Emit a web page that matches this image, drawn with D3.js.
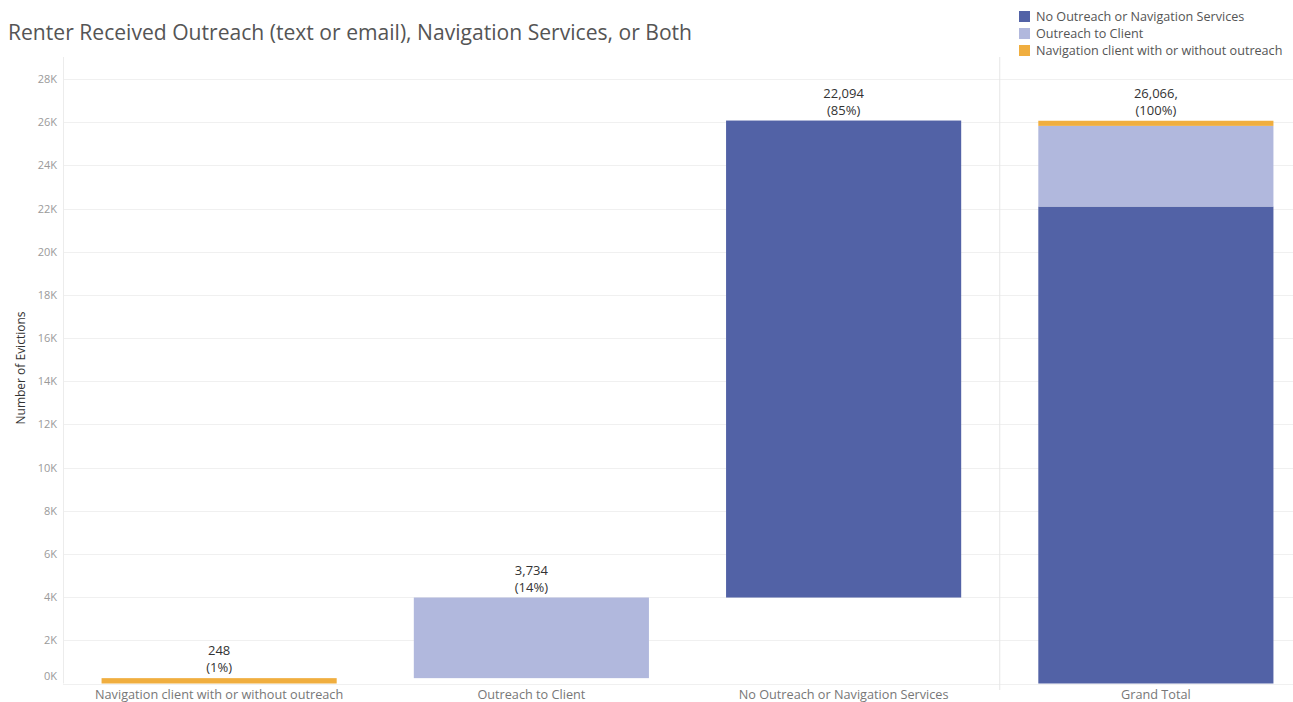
<!DOCTYPE html>
<html>
<head>
<meta charset="utf-8">
<script src="https://cdn.jsdelivr.net/npm/d3@7"></script>
<style>
  html, body { margin: 0; padding: 0; background: #fff; }
  svg { display: block; font-family: "Open Sans", "Noto Sans", sans-serif; }
</style>
</head>
<body>
<svg id="chart" width="1293" height="702"></svg>
<script>
// Evictions by outreach / navigation status (waterfall with grand total)
const categories = [
  "Navigation client with or without outreach",
  "Outreach to Client",
  "No Outreach or Navigation Services"
];
const totalLabel = "Grand Total";
const values = [248, 3734, 22094];
const percents = ["1%", "14%", "85%"];
const grandTotal = 26066;
const totalPercent = "100%";
const colors = ["#f0ae3f", "#b1b8dd", "#5262a6"];
const yTicks = [0, 2000, 4000, 6000, 8000, 10000, 12000, 14000, 16000, 18000, 20000, 22000, 24000, 26000, 28000];
const legendOrder = [2, 1, 0];

const svg = d3.select("#chart");
const W = 1293, H = 702;
const padLeft = 63, padTop = 57, baseY = 683.5;

const x = d3.scaleBand()
  .domain([...categories, totalLabel])
  .range([padLeft, padLeft + 4 * 312.25])
  .paddingInner(0.247)
  .paddingOuter(0.1235);

const y = d3.scaleLinear().domain([0, 28000]).range([baseY, 79]);

// running totals for the waterfall steps
let run = 0;
const steps = values.map((v, i) => {
  const s = { cat: categories[i], start: run, end: run + v, value: v, pct: percents[i], color: colors[i] };
  run += v;
  return s;
});

// gridlines
svg.append("g")
  .selectAll("line")
  .data(yTicks)
  .join("line")
  .attr("x1", padLeft).attr("x2", W)
  .attr("y1", d => Math.round(y(d)) + 0.5).attr("y2", d => Math.round(y(d)) + 0.5)
  .attr("stroke", "#f0f0f0").attr("stroke-width", 1);

// left axis rule and pane divider
svg.append("line").attr("x1", padLeft + 0.5).attr("x2", padLeft + 0.5).attr("y1", padTop).attr("y2", baseY)
  .attr("stroke", "#ececec");
const divX = padLeft + 3 * 312.25;
svg.append("line").attr("x1", divX).attr("x2", divX).attr("y1", padTop).attr("y2", 690)
  .attr("stroke", "#e6e6e6");

// y axis
const yAxis = d3.axisLeft(y).tickValues(yTicks).tickSize(0).tickPadding(6)
  .tickFormat(d => (d / 1000) + "K");
const ga = svg.append("g").attr("transform", `translate(${padLeft},0)`).call(yAxis);
ga.select(".domain").remove();
ga.selectAll("text").attr("fill", "#9a9a9a").attr("font-size", 11)
  .attr("font-family", "'Open Sans', sans-serif");
// bottom label is held inside the pane
ga.selectAll(".tick").filter(d => d === 0).select("text").attr("dy", "-0.35em");

svg.append("text")
  .attr("transform", `translate(25,${368}) rotate(-90)`)
  .attr("text-anchor", "middle")
  .attr("font-size", 12).attr("fill", "#333")
  .text("Number of Evictions");

// waterfall step bars
svg.append("g").selectAll("rect")
  .data(steps)
  .join("rect")
  .attr("x", d => x(d.cat))
  .attr("width", x.bandwidth())
  .attr("y", d => y(d.end))
  .attr("height", d => y(d.start) - y(d.end))
  .attr("fill", d => d.color);

// grand total stacked bar, capped at the stated total
let acc = 0;
const stackParts = legendOrder.map(i => {
  const p = { start: acc, end: Math.min(acc + values[i], grandTotal), color: colors[i] };
  acc += values[i];
  return p;
});
svg.append("g").selectAll("rect")
  .data(stackParts)
  .join("rect")
  .attr("x", x(totalLabel))
  .attr("width", x.bandwidth())
  .attr("y", d => y(d.end))
  .attr("height", d => y(d.start) - y(d.end))
  .attr("fill", d => d.color);

// value labels
const fmt = d3.format(",");
const labelData = [
  ...steps.map(s => ({ cat: s.cat, top: s.end, l1: fmt(s.value), l2: "(" + s.pct + ")" })),
  { cat: totalLabel, top: grandTotal, l1: fmt(grandTotal) + ",", l2: "(" + totalPercent + ")" }
];
const lg = svg.append("g").selectAll("g").data(labelData).join("g")
  .attr("transform", d => `translate(${x(d.cat) + x.bandwidth() / 2},${y(d.top)})`);
lg.append("text").attr("y", -23).attr("text-anchor", "middle")
  .attr("font-size", 13).attr("fill", "#333").text(d => d.l1);
lg.append("text").attr("y", -6).attr("text-anchor", "middle")
  .attr("font-size", 13).attr("fill", "#333").text(d => d.l2);

// x category labels
svg.append("g").selectAll("text")
  .data([...categories, totalLabel])
  .join("text")
  .attr("x", d => x(d) + x.bandwidth() / 2)
  .attr("y", 698.5)
  .attr("text-anchor", "middle")
  .attr("font-size", 12.7).attr("fill", "#777")
  .text(d => d);

// title
svg.append("text").attr("x", 8).attr("y", 40)
  .attr("font-size", 21.1).attr("fill", "#555")
  .text("Renter Received Outreach (text or email), Navigation Services, or Both");

// legend
const leg = svg.append("g").attr("transform", "translate(1019,11)");
const li = leg.selectAll("g").data(legendOrder).join("g")
  .attr("transform", (d, i) => `translate(0,${i * 17})`);
li.append("rect").attr("width", 11).attr("height", 11).attr("fill", d => colors[d]);
li.append("text").attr("x", 17).attr("y", 10)
  .attr("font-size", 12.6).attr("fill", "#555")
  .text(d => categories[d]);
</script>
</body>
</html>
